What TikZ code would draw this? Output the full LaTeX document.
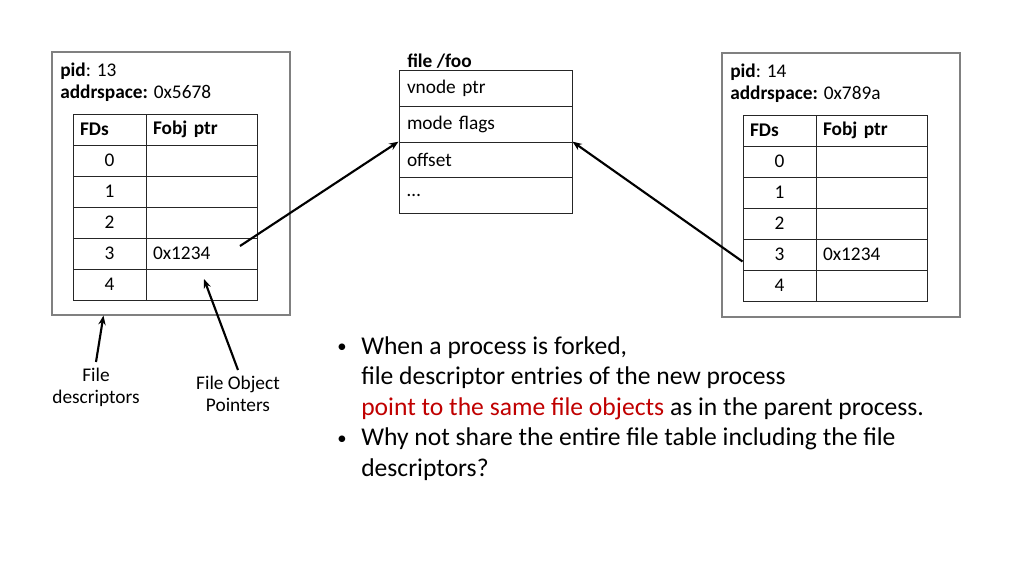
\documentclass[tikz,border=0pt]{standalone}
\usepackage{fontspec}
\setmainfont{Carlito}
\usepackage{xcolor}
\usetikzlibrary{arrows.meta,positioning,calc}
\definecolor{clrRed}{RGB}{192,0,0}
\definecolor{clrBox}{RGB}{128,128,128}
\newcommand{\smallfnt}{\fontsize{14.5}{16.5}\selectfont}
\newcommand{\bigfnt}{\fontsize{19.2}{22.9}\selectfont}
\newcommand{\dotmark}{\raisebox{1.2pt}{\fontsize{14}{14}\selectfont\textbullet}}
\tikzset{
  procbox/.style={rectangle,draw=clrBox,line width=0.8pt,inner sep=0pt},
  fdcell/.style={rectangle,draw=black!85,line width=0.75pt,minimum height=23.25pt,
    inner xsep=5.25pt,inner ysep=0pt,text width=44.25pt,align=center,font=\smallfnt},
  ptrcell/.style={fdcell,text width=72.75pt,align=left},
  headcell/.style={align=left,font=\smallfnt\bfseries},
  filecell/.style={rectangle,draw=black!85,line width=0.75pt,minimum height=26.8pt,
    inner xsep=6pt,inner ysep=0pt,text width=117.75pt,align=left,font=\smallfnt},
  proclabel/.style={align=left,font=\smallfnt,inner sep=0pt,anchor=north west},
  note/.style={align=center,font=\smallfnt,inner sep=0pt,inner ysep=4pt,anchor=north},
  pointer/.style={-{Stealth[length=7pt,width=5.5pt]},line width=1.6pt,color=black}
}

\begin{document}
\begin{tikzpicture}[x=0.75pt,y=-0.75pt]
  \useasboundingbox (0,0) rectangle (1024,576);
  % parent process
  \node[procbox,minimum width=178.5pt,minimum height=197.25pt] (lproc) at (171,183.5) {};
  \node[proclabel] (lhead) at (60,63) {\textbf{pid}: 13\\\textbf{addrspace:} 0x5678};
  \node[fdcell,headcell] (L-fd-0) at (109.5,129.5) {FDs};
  \node[ptrcell,headcell] (L-ptr-0) at (201.5,129.5) {Fobj ptr};
  \foreach \fd/\ptr [count=\i] in {0/,1/,2/,3/0x1234,4/}{
    \node[fdcell] (L-fd-\i) at (109.5,129.5+31*\i) {\fd};
    \node[ptrcell] (L-ptr-\i) at (201.5,129.5+31*\i) {\ptr};
  }
  % child process
  \node[procbox,minimum width=178.5pt,minimum height=198pt] (rproc) at (841,185) {};
  \node[proclabel] (rhead) at (730,64) {\textbf{pid}: 14\\\textbf{addrspace:} 0x789a};
  \node[fdcell,headcell] (R-fd-0) at (779.5,130.5) {FDs};
  \node[ptrcell,headcell] (R-ptr-0) at (871.5,130.5) {Fobj ptr};
  \foreach \fd/\ptr [count=\i] in {0/,1/,2/,3/0x1234,4/}{
    \node[fdcell] (R-fd-\i) at (779.5,130.5+31*\i) {\fd};
    \node[ptrcell] (R-ptr-\i) at (871.5,130.5+31*\i) {\ptr};
  }
  % file object
  \node[font=\smallfnt\bfseries,anchor=west,inner sep=0pt] (ftitle) at (407,61) {file /foo};
  \foreach \txt [count=\i from 0] in {vnode ptr,mode flags,offset,…}{
    \node[filecell] (file-\i) at (485.5,88.5+35.75*\i) {\txt};
  }
  % captions
  \node[note] (fdnote) at (96,362) {File\\descriptors};
  \node[note] (ptrnote) at (238,370) {File Object\\Pointers};
  \coordinate (fdtip) at ($(lproc.south west)+(52,0)$);
  \coordinate (ptrtip) at ($(L-ptr-5.center)+(2.5,-5.5)$);
  \coordinate (lstart) at ($(L-ptr-4.center)+(38.5,-7.5)$);
  \coordinate (rstart) at ($(R-fd-4.west)+(0,7)$);
  \draw[pointer] (lstart) -- (file-2.north west);
  \draw[pointer] (rstart) -- (file-2.north east);
  \draw[pointer] (fdnote.north) -- (fdtip);
  \draw[pointer] (ptrnote.north) -- (ptrtip);
  % remarks
  \node[anchor=base west,inner sep=0pt,font=\bigfnt] (remarks) at (337,354)
    {\begin{tabular}[t]{@{}p{18pt}@{}l@{}}
      \dotmark & When a process is forked,\\
      & file descriptor entries of the new process\\
      & \textcolor{clrRed}{point to the same file objects} as in the parent process.\\
      \dotmark & Why not share the entire file table including the file\\
      & descriptors?
    \end{tabular}};
\end{tikzpicture}
\end{document}
